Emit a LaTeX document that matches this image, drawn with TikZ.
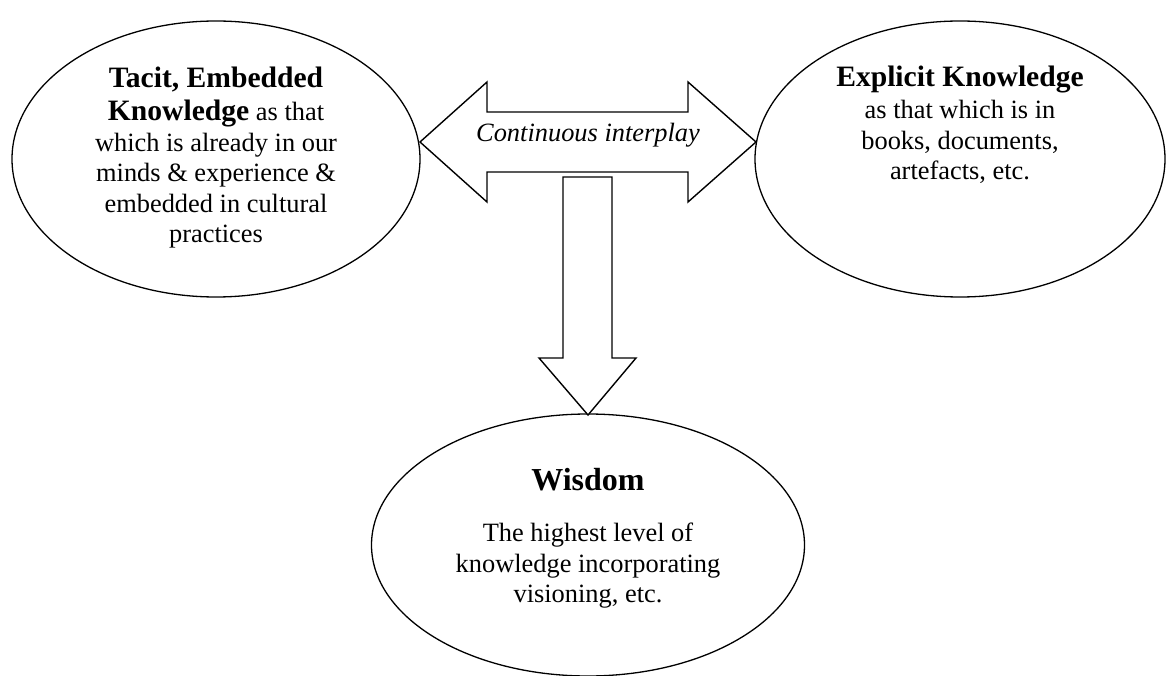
\documentclass[tikz,border=0pt]{standalone}
\usepackage{fontspec}
\setmainfont{Liberation Serif}
\usetikzlibrary{shapes.geometric}
\begin{document}
\begin{tikzpicture}[x=1pt,y=-1pt,
  oval/.style={ellipse,draw,line width=1.3pt,inner sep=0pt},
  blockarrow/.style={draw,line width=1.4pt,line join=miter,fill=white},
  txt/.style={align=center,inner sep=0pt,anchor=north,font=\fontsize{26.4}{30.5}\selectfont},
  bigtitle/.style={font=\fontsize{32}{36}\selectfont\bfseries}]
\newcommand{\ttl}[1]{{\fontsize{29.6}{30.5}\selectfont\bfseries #1}}
\useasboundingbox (0,0) rectangle (1167,676);
\node[oval,minimum width=408pt,minimum height=276pt] (tacit) at (216,159) {};
\node[oval,minimum width=410pt,minimum height=276pt] (explicit) at (960,159) {};
\node[oval,minimum width=433pt,minimum height=262pt] (wisdom) at (588,545) {};
% double arrow
\coordinate (ltip) at (420,142);
\coordinate (rtip) at (756,142);
\draw[blockarrow] (ltip) -- (487,82) -- (487,112) -- (688,112) -- (688,82) -- (rtip)
  -- (688,202) -- (688,172) -- (487,172) -- (487,202) -- cycle;
% down arrow
\coordinate (dtip) at (588,415);
\draw[blockarrow] (563,177) -- (612,177) -- (612,358) -- (636,358) -- (dtip)
  -- (539,358) -- (563,358) -- cycle;
\node[txt,anchor=base] (interplay) at (588,142) {\itshape Continuous interplay};
\node[txt] (tacittext) at (216,67) {\ttl{Tacit, Embedded}\\[2.5pt]
  \ttl{Knowledge} as that\\which is already in our\\minds \& experience \&\\embedded in cultural\\practices};
\node[txt] (explicittext) at (960,66) {\ttl{Explicit Knowledge}\\[1.5pt]
  as that which is in\\books, documents,\\artefacts, etc.};
\node[txt,bigtitle,anchor=base] (wisdomtitle) at (588,490) {Wisdom};
\node[txt] (wisdomtext) at (588,523) {The highest level of\\knowledge incorporating\\visioning, etc.};
\end{tikzpicture}
\end{document}
